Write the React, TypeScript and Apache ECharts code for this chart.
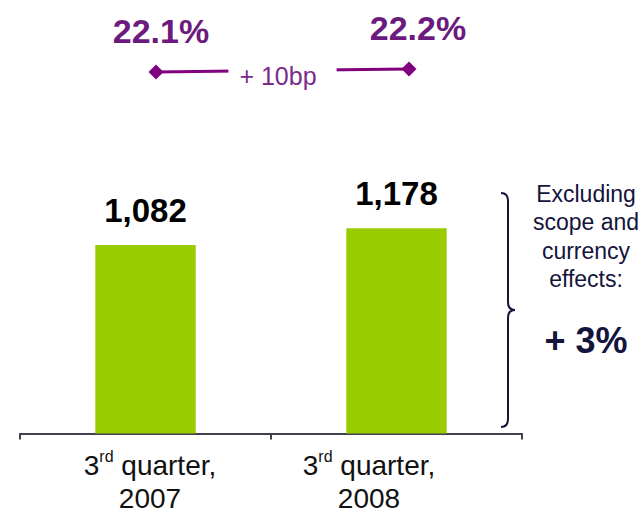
import React, { useEffect, useRef } from "react";
import * as echarts from "echarts";

const years = ["2007", "2008"];
const quarterNumber = "3";
const quarterSuffix = "rd";
const sales = [1082, 1178];
const margins = [22.1, 22.2];
const marginChange = "+ 10bp";
const noteLines = ["Excluding", "scope and", "currency", "effects:"];
const organicGrowth = "+ 3%";

const FONT = "'Liberation Sans', Arial, Helvetica, sans-serif";
const PURPLE = "#800080";
const PURPLE_TEXT = "#6B1A7E";
const NAVY = "#14143C";

const braceD =
  "M0 0 C5 0 7 3 7 8 L7 109 C7 114 9 117 14 117 C9 117 7 120 7 125 L7 226 C7 231 5 234 0 234";

let registered = false;

export default function App() {
  const ref = useRef<HTMLDivElement>(null);
  useEffect(() => {
    if (!ref.current) return;
    if (!registered) {
      echarts.graphic.registerShape("brace", echarts.graphic.extendPath(braceD, {}) as any);
      registered = true;
    }
    const chart = echarts.init(ref.current, null, { renderer: "svg" });
    const catData = years.map((y, i) => ({
      value: y,
      textStyle: { padding: i === 0 ? [0, 0, 0, 9] : [0, 55, 0, 0] },
    }));
    chart.setOption({
      animation: false,
      backgroundColor: "#ffffff",
      textStyle: { fontFamily: FONT },
      grid: [
        { left: 20, right: 119, top: 207, bottom: 78, containLabel: false },
        { left: 29.5, right: 105.5, top: 60, height: 15, containLabel: false },
      ],
      xAxis: [
        {
          type: "category",
          gridIndex: 0,
          data: catData,
          axisLine: { lineStyle: { color: "#404050", width: 2 } },
          axisTick: { show: true, length: 6, lineStyle: { color: "#404050", width: 2 } },
          axisLabel: {
            margin: 15,
            interval: 0,
            color: "#111111",
            formatter: (v: string) =>
              `{n|${quarterNumber}}{s|${quarterSuffix}}{n| quarter,}\n{n|${v}}`,
            rich: {
              n: { fontSize: 28, lineHeight: 33, fontFamily: FONT, color: "#111111" },
              s: { fontSize: 16, lineHeight: 30, verticalAlign: "top", fontFamily: FONT, color: "#111111" },
            },
          },
        },
        {
          type: "category",
          gridIndex: 1,
          data: years,
          show: false,
        },
      ],
      yAxis: [
        { type: "value", gridIndex: 0, min: 0, max: 1300, show: false, splitLine: { show: false } },
        { type: "value", gridIndex: 1, min: 22, max: 22.5, show: false, splitLine: { show: false } },
      ],
      series: [
        {
          type: "bar",
          xAxisIndex: 0,
          yAxisIndex: 0,
          data: sales,
          barWidth: "40%",
          itemStyle: { color: "#99CC00" },
          label: {
            show: true,
            position: "top",
            distance: 18,
            fontSize: 33,
            fontWeight: "bold",
            color: "#000000",
            fontFamily: FONT,
            formatter: (p: any) => p.value.toLocaleString("en-US"),
          },
        },
        {
          type: "line",
          xAxisIndex: 1,
          yAxisIndex: 1,
          data: margins.map((m, i) => ({
            value: m,
            label: { offset: [i === 0 ? 5 : 9, 0] },
          })),
          symbol: "diamond",
          symbolSize: 15,
          lineStyle: { color: PURPLE, width: 3 },
          itemStyle: { color: PURPLE },
          label: {
            show: true,
            position: "top",
            distance: 17,
            fontSize: 34,
            fontWeight: "bold",
            color: PURPLE_TEXT,
            fontFamily: FONT,
            formatter: (p: any) => `${p.value.toFixed(1)}%`,
          },
        },
      ],
      graphic: [
        {
          type: "text",
          z: 100,
          x: 282.5,
          y: 76,
          style: {
            text: marginChange,
            font: `25px ${FONT}`,
            fill: "#7A2A8A",
            align: "center",
            verticalAlign: "middle",
            backgroundColor: "#ffffff",
            padding: [6, 20, 6, 11],
          },
        },
        {
          type: "brace",
          x: 501,
          y: 193,
          style: { fill: "none", stroke: NAVY, lineWidth: 2 },
        },
        {
          type: "text",
          x: 586,
          y: 180,
          style: {
            text: noteLines.join("\n"),
            font: `23px ${FONT}`,
            lineHeight: 28.3,
            fill: NAVY,
            align: "center",
            verticalAlign: "top",
          },
        },
        {
          type: "text",
          x: 586,
          y: 340,
          style: {
            text: organicGrowth,
            font: `bold 36px ${FONT}`,
            fill: NAVY,
            align: "center",
            verticalAlign: "middle",
          },
        },
      ],
    });
    return () => chart.dispose();
  }, []);
  return <div ref={ref} style={{ width: 641, height: 512, position: "absolute", left: 0, top: 0 }} />;
}
